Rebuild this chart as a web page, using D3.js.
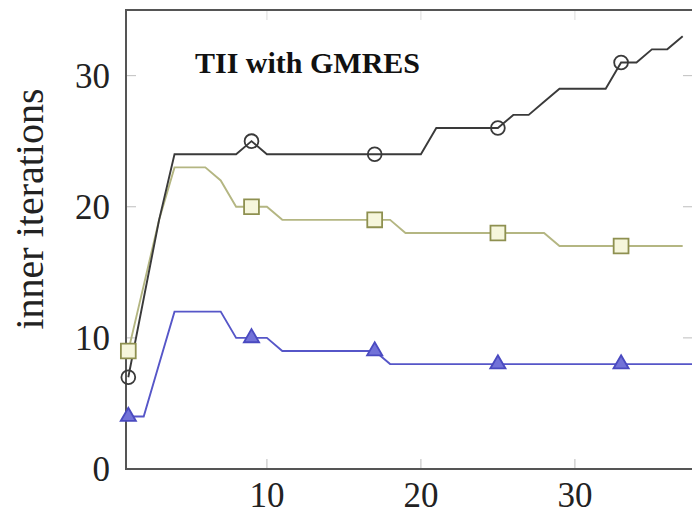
<!DOCTYPE html>
<html>
<head>
<meta charset="utf-8">
<script src="https://cdnjs.cloudflare.com/ajax/libs/d3/7.8.5/d3.min.js"></script>
<style>
    body { margin: 0; background: #fff; }
    svg { display: block; }
</style>
</head>
<body>
<script>
// iteration numbers (x) and inner iteration counts for the three runs
var iters = [1,2,3,4,5,6,7,8,9,10,11,12,13,14,15,16,17,18,19,20,21,22,23,24,25,26,27,28,29,30,31,32,33,34,35,36,37,38];
var circleSeries = [7,13,19,24,24,24,24,24,25,24,24,24,24,24,24,24,24,24,24,24,26,26,26,26,26,27,27,28,29,29,29,29,31,31,32,32,33];
var squareSeries = [9,14,19,23,23,23,22,20,20,20,19,19,19,19,19,19,19,19,18,18,18,18,18,18,18,18,18,18,17,17,17,17,17,17,17,17,17];
var triangleSeries = [4,4,8,12,12,12,12,10,10,10,9,9,9,9,9,9,9,8,8,8,8,8,8,8,8,8,8,8,8,8,8,8,8,8,8,8,8,8];
var markerIters = [1,9,17,25,33];
var xTicks = [10,20,30];
var yTicks = [0,10,20,30];
var title = 'TII with GMRES';
var yLabel = 'inner iterations';

var width = 692, height = 518;
var plot = {left: 126, top: 10, right: 695, bottom: 469};

var x = d3.scaleLinear().domain([0.85, 37.8]).range([plot.left, plot.right]);
var y = d3.scaleLinear().domain([0, 35]).range([plot.bottom, plot.top]);

var svg = d3.select('body').append('svg')
    .attr('width', width).attr('height', height)
    .style('font-family', '"Liberation Serif", "DejaVu Serif", serif');

svg.append('defs').append('clipPath').attr('id', 'plotclip')
    .append('rect')
    .attr('x', plot.left).attr('y', plot.top - 12)
    .attr('width', plot.right - plot.left).attr('height', plot.bottom - plot.top + 12);

// faint inner ticks, pgfplots style
var tickColor = '#c8c8c8';
svg.append('g').selectAll('line.ly').data(yTicks.slice(1)).join('line')
    .attr('x1', plot.left).attr('x2', plot.left + 10)
    .attr('y1', function(d) { return y(d); }).attr('y2', function(d) { return y(d); })
    .style('stroke', tickColor).style('stroke-width', 1.2);
svg.append('g').selectAll('line.ry').data(yTicks.slice(1)).join('line')
    .attr('x1', plot.right - 12).attr('x2', plot.right)
    .attr('y1', function(d) { return y(d); }).attr('y2', function(d) { return y(d); })
    .style('stroke', tickColor).style('stroke-width', 1.2);
svg.append('g').selectAll('line.bx').data(xTicks).join('line')
    .attr('x1', function(d) { return x(d); }).attr('x2', function(d) { return x(d); })
    .attr('y1', plot.bottom).attr('y2', plot.bottom - 10)
    .style('stroke', tickColor).style('stroke-width', 1.2);
svg.append('g').selectAll('line.tx').data(xTicks).join('line')
    .attr('x1', function(d) { return x(d); }).attr('x2', function(d) { return x(d); })
    .attr('y1', plot.top).attr('y2', plot.top + 10)
    .style('stroke', '#e2e2e2').style('stroke-width', 1.2);

// frame
svg.append('path')
    .attr('d', 'M' + plot.right + ',' + plot.top + 'H' + plot.left + 'V' + plot.bottom + 'H' + plot.right)
    .style('fill', 'none').style('stroke', '#555').style('stroke-width', 2);

// tick labels
svg.append('g').selectAll('text').data(yTicks).join('text')
    .attr('x', 110).attr('y', function(d) { return y(d) + 12; })
    .attr('text-anchor', 'end')
    .style('font-size', '35px').style('fill', '#222')
    .text(function(d) { return d; });
svg.append('g').selectAll('text').data(xTicks).join('text')
    .attr('x', function(d) { return x(d); }).attr('y', 507)
    .attr('text-anchor', 'middle')
    .style('font-size', '35px').style('fill', '#222')
    .text(function(d) { return d; });

svg.append('text')
    .attr('transform', 'translate(43,' + 209 + ') rotate(-90)')
    .attr('text-anchor', 'middle')
    .style('font-size', '40px').style('fill', '#222')
    .text(yLabel);

svg.append('text')
    .attr('x', 195).attr('y', 73)
    .style('font-size', '30px').style('font-weight', 'bold').style('fill', '#111')
    .text(title);

var series = [
    {values: circleSeries, line: '#3a3a3a', stroke: '#3a3a3a', fill: 'none', mark: 'circle'},
    {values: squareSeries, line: '#b4b682', stroke: '#8e9050', fill: '#f6f6dc', mark: 'square'},
    {values: triangleSeries, line: '#5656c8', stroke: '#4a4ac0', fill: '#7272d8', mark: 'triangle'}
];

var line = d3.line()
    .x(function(d) { return x(d[0]); })
    .y(function(d) { return y(d[1]); });

var plotArea = svg.append('g').attr('clip-path', 'url(#plotclip)');

series.slice().reverse().forEach(function(s) {
    var pts = s.values.map(function(v, i) { return [iters[i], v]; });
    plotArea.append('path')
        .datum(pts)
        .attr('d', line)
        .style('fill', 'none').style('stroke', s.line).style('stroke-width', 1.9);

    var marks = pts.filter(function(p) { return markerIters.indexOf(p[0]) >= 0; });
    var sym = s.mark === 'circle' ? d3.symbolCircle : (s.mark === 'square' ? d3.symbolSquare : d3.symbolTriangle);
    var size = s.mark === 'circle' ? 150 : (s.mark === 'square' ? 220 : 100);
    svg.append('g').selectAll('path').data(marks).join('path')
        .attr('transform', function(d) { return 'translate(' + x(d[0]) + ',' + y(d[1]) + ')'; })
        .attr('d', d3.symbol().type(sym).size(size))
        .style('fill', s.fill).style('stroke', s.stroke).style('stroke-width', 1.8);
});
</script>
</body>
</html>
